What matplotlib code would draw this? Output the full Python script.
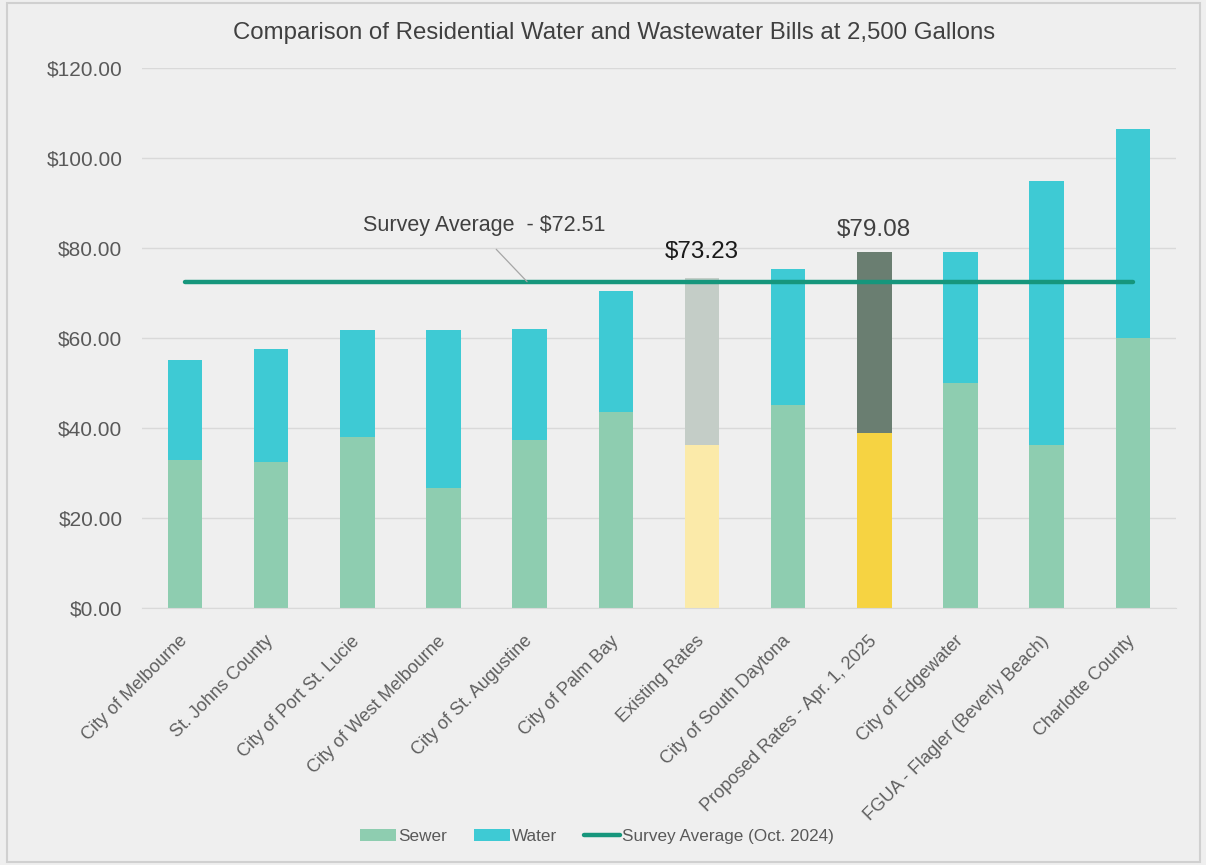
import matplotlib
matplotlib.use("Agg")
import matplotlib.pyplot as plt
import numpy as np

plt.rcParams['font.family'] = ['Liberation Sans', 'DejaVu Sans']

categories = ["City of Melbourne", "St. Johns County", "City of Port St. Lucie",
              "City of West Melbourne", "City of St. Augustine", "City of Palm Bay",
              "Existing Rates", "City of South Daytona", "Proposed Rates - Apr. 1, 2025",
              "City of Edgewater", "FGUA - Flagler (Beverly Beach)", "Charlotte County"]
sewer = [33.0, 32.4, 38.1, 26.7, 37.3, 43.5, 36.2, 45.1, 38.8, 50.1, 36.2, 60.1]
totals = [55.0, 57.6, 61.8, 61.8, 62.0, 70.4, 73.23, 75.3, 79.08, 79.0, 94.8, 106.4]
water = [t - s for t, s in zip(totals, sewer)]
survey_average = 72.51
yticks = [0, 20, 40, 60, 80, 100, 120]

sewer_color = "#8ecdb0"
water_color = "#3ecad4"
line_color = "#16967c"
sewer_colors = [sewer_color] * len(categories)
water_colors = [water_color] * len(categories)
sewer_colors[6] = "#fbeaa9"
water_colors[6] = "#c4cdc7"
sewer_colors[8] = "#f6d342"
water_colors[8] = "#6a7e71"

bg = "#efefef"
fig = plt.figure(figsize=(12.06, 8.65), dpi=100, facecolor=bg)
ax = fig.add_axes([0.1177, 0.2971, 0.8573, 0.6243], facecolor=bg)

x = np.arange(len(categories))
w = 0.4
ax.bar(x, sewer, w, color=sewer_colors, label="Sewer", zorder=2)
ax.bar(x, water, w, bottom=sewer, color=water_colors, label="Water", zorder=2)
ax.plot(x, [survey_average] * len(x), color=line_color, lw=3.2,
        solid_capstyle='round', label="Survey Average (Oct. 2024)", zorder=3)

ax.set_xlim(-0.5, len(categories) - 0.5)
ax.set_ylim(0, 120)
ax.set_yticks(yticks)
ax.set_yticklabels([f"${v:.2f}" for v in yticks], fontsize=15, color="#595959")
ax.yaxis.grid(True, color="#d9d9d9", lw=1, zorder=0)
ax.set_axisbelow(True)
ax.tick_params(axis='y', length=0, pad=14)
ax.tick_params(axis='x', length=0, pad=22)
ax.set_xticks(x)
ax.set_xticklabels(categories, rotation=45, ha='right', va='center', rotation_mode='anchor',
                   fontsize=13, color="#5f5f5f")
for s in ax.spines.values():
    s.set_visible(False)
ax.spines['bottom'].set_visible(True)
ax.spines['bottom'].set_color("#d9d9d9")

ax.text(6, totals[6] + 3.5, f"${totals[6]:.2f}", ha='center', va='bottom',
        fontsize=17.5, color="#1a1a1a")
ax.text(8, totals[8] + 2.5, f"${totals[8]:.2f}", ha='center', va='bottom',
        fontsize=17.5, color="#404040")

ax.annotate(f"Survey Average  - ${survey_average:.2f}", xy=(3.97, survey_average),
            xytext=(3.47, 84.9), ha='center', va='center', fontsize=15.5, color="#404040",
            arrowprops=dict(arrowstyle='-', color="#a6a6a6", lw=0.9,
                            relpos=(0.5, 0.0), shrinkA=10, shrinkB=0))

fig.text(0.5095, 0.962, "Comparison of Residential Water and Wastewater Bills at 2,500 Gallons",
         ha='center', va='center', fontsize=17.3, color="#404040")

handles, labels = ax.get_legend_handles_labels()
order = [1, 2, 0]
leg = fig.legend([handles[i] for i in order], [labels[i] for i in order],
                 loc='center', bbox_to_anchor=(0.495, 0.033), ncol=3, frameon=False,
                 fontsize=12.3, labelcolor="#595959", handlelength=2.1, handletextpad=0.1,
                 columnspacing=1.6)

fig.patches.append(plt.Rectangle((0.006, 0.003), 0.989, 0.993, transform=fig.transFigure,
                                 fill=False, edgecolor="#d0d0d0", lw=1.5))
fig.savefig("out.png", dpi=100, facecolor=bg)
